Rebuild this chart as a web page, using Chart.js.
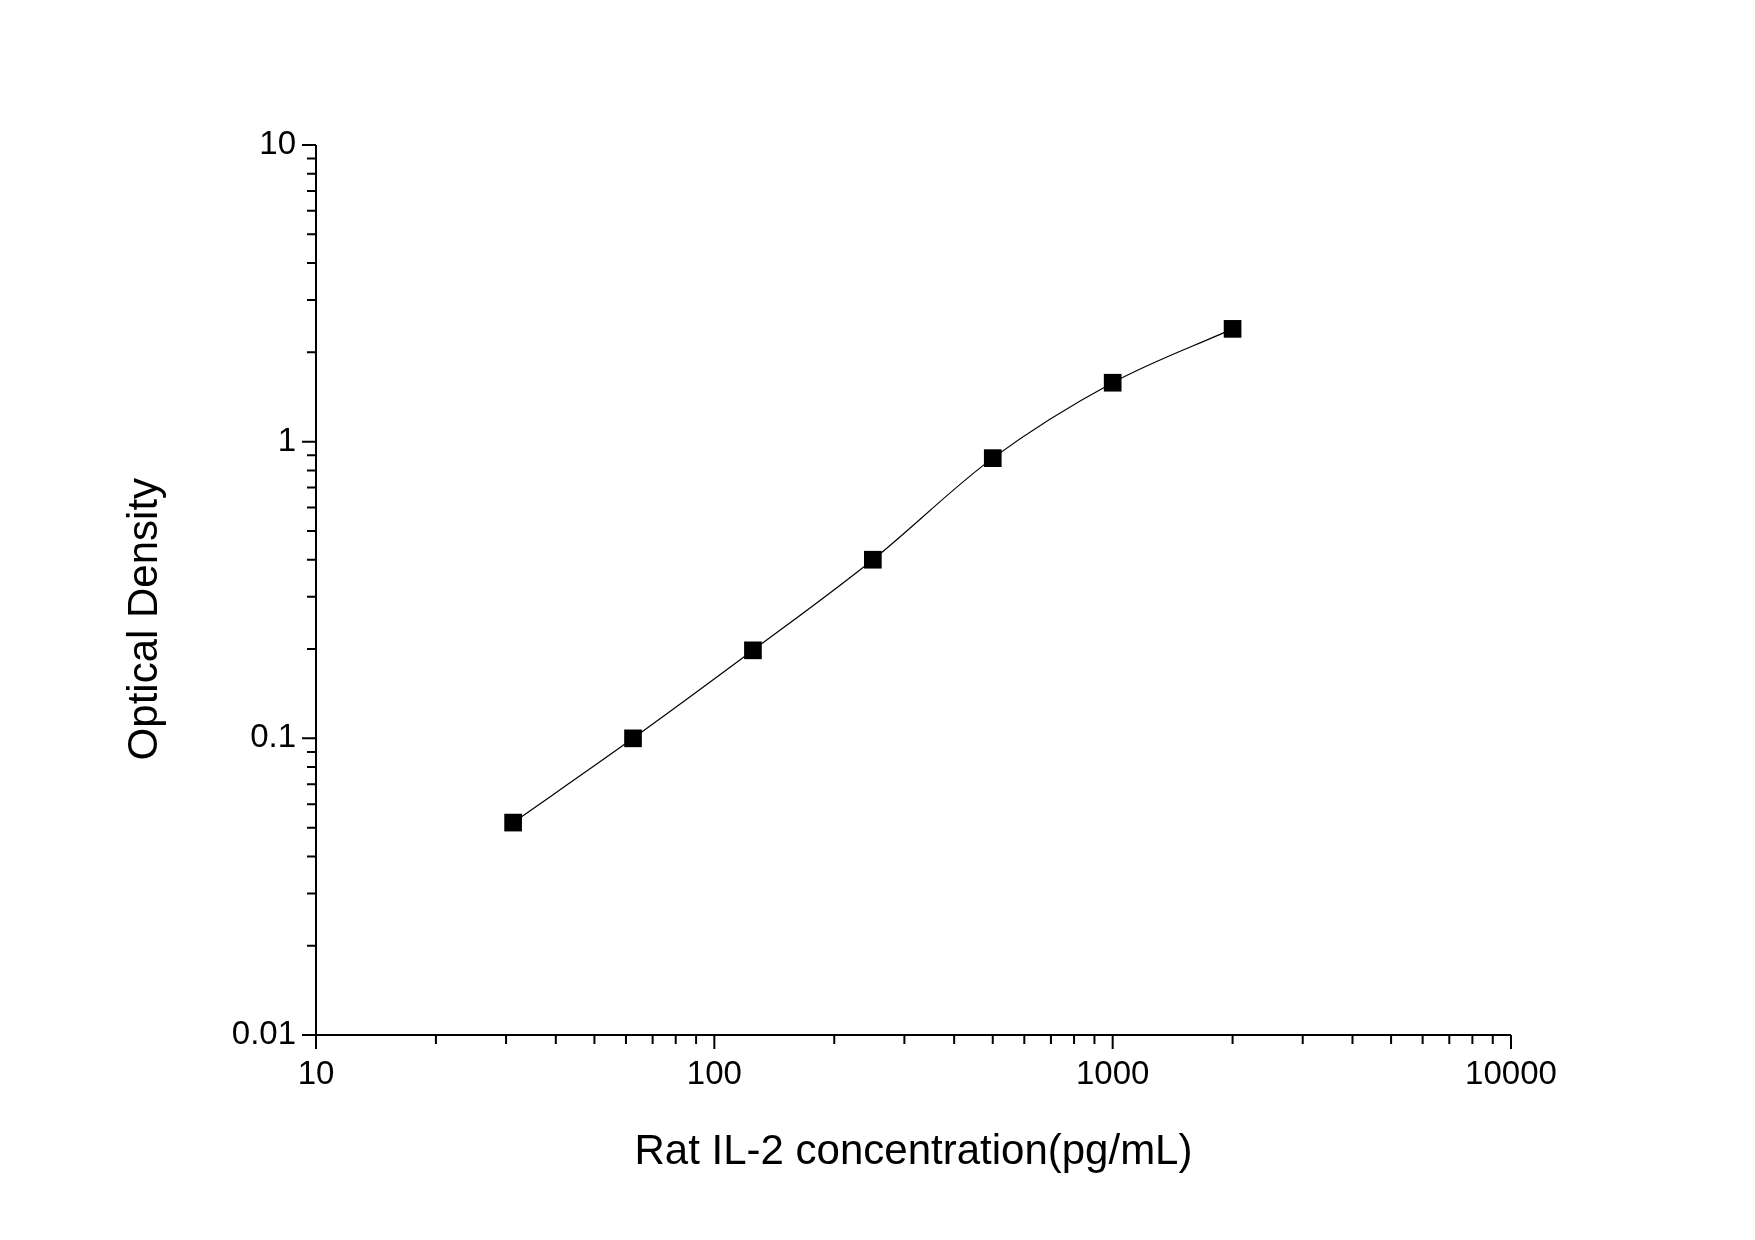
<!DOCTYPE html>
<html>
<head>
<meta charset="utf-8">
<script src="https://cdn.jsdelivr.net/npm/chart.js@4"></script>
<style>
  body { margin: 0; background: #fff; }
  #wrap { width: 1755px; height: 1240px; }
</style>
</head>
<body>
<div id="wrap"><canvas id="curve"></canvas></div>
<script>
var concentrations = [31.25, 62.5, 125, 250, 500, 1000, 2000];
var densities = [0.052, 0.1, 0.198, 0.40, 0.88, 1.58, 2.4];
var xMajor = [10, 100, 1000, 10000];
var yMajor = [0.01, 0.1, 1, 10];

function logTicks(lo, hi) {
    var out = [];
    for (var d = lo; d < hi; d *= 10) {
        for (var m = 1; m < 10; m++) out.push(+(d * m).toPrecision(3));
    }
    out.push(hi);
    return out;
}

function isMajor(v, list) {
    return list.some(function (t) { return Math.abs(t - v) < t * 1e-6; });
}

// axis lines and ticks, drawn from the scales
var axisTicks = {
    id: 'axisTicks',
    afterDraw: function (chart) {
        var c = chart.ctx, a = chart.chartArea;
        var xs = chart.scales.x, ys = chart.scales.y;
        c.save();
        c.strokeStyle = '#000';
        c.lineWidth = 2;
        c.beginPath();
        c.moveTo(a.left, a.top); c.lineTo(a.left, a.bottom); c.lineTo(a.right, a.bottom);
        logTicks(10, 10000).forEach(function (v) {
            var px = xs.getPixelForValue(v), len = isMajor(v, xMajor) ? 14 : 9;
            c.moveTo(px, a.bottom); c.lineTo(px, a.bottom + len);
        });
        logTicks(0.01, 10).forEach(function (v) {
            var py = ys.getPixelForValue(v), len = isMajor(v, yMajor) ? 14 : 9;
            c.moveTo(a.left, py); c.lineTo(a.left - len, py);
        });
        c.stroke();
        c.restore();
    }
};

var tickFont = { family: 'Liberation Sans, Arial', size: 33 };
var titleFont = { family: 'Liberation Sans, Arial', size: 42 };

new Chart(document.getElementById('curve').getContext('2d'), {
    type: 'line',
    data: {
        datasets: [{
            data: concentrations.map(function (x, i) { return { x: x, y: densities[i] }; }),
            borderColor: '#000',
            borderWidth: 1.2,
            cubicInterpolationMode: 'monotone',
            pointStyle: 'rect',
            pointRadius: 12.5,
            pointBackgroundColor: '#000',
            pointBorderWidth: 0
        }]
    },
    options: {
        responsive: true,
        maintainAspectRatio: false,
        animation: false,
        layout: { padding: { top: 145, right: 244, left: 0, bottom: 0 } },
        plugins: { legend: { display: false }, tooltip: { enabled: false } },
        scales: {
            x: {
                type: 'logarithmic', min: 10, max: 10000,
                afterBuildTicks: function (s) { s.ticks = xMajor.map(function (v) { return { value: v }; }); },
                afterFit: function (s) { s.height = 205; },
                grid: { display: false, drawTicks: false },
                border: { display: false },
                ticks: { color: '#000', font: tickFont, padding: 20, maxRotation: 0,
                    callback: function (v) { return String(v); } },
                title: { display: true, text: 'Rat IL-2 concentration(pg/mL)', color: '#000',
                    font: titleFont, padding: { top: 0, bottom: 62 } }
            },
            y: {
                type: 'logarithmic', min: 0.01, max: 10,
                afterBuildTicks: function (s) { s.ticks = yMajor.map(function (v) { return { value: v }; }); },
                afterFit: function (s) { s.width = 316; },
                grid: { display: false, drawTicks: false },
                border: { display: false },
                ticks: { color: '#000', font: tickFont, padding: 20,
                    callback: function (v) { return String(v); } },
                title: { display: true, text: 'Optical Density     ', color: '#000',
                    font: titleFont, padding: { top: 120, bottom: 0 } }
            }
        }
    },
    plugins: [axisTicks]
});
</script>
</body>
</html>
